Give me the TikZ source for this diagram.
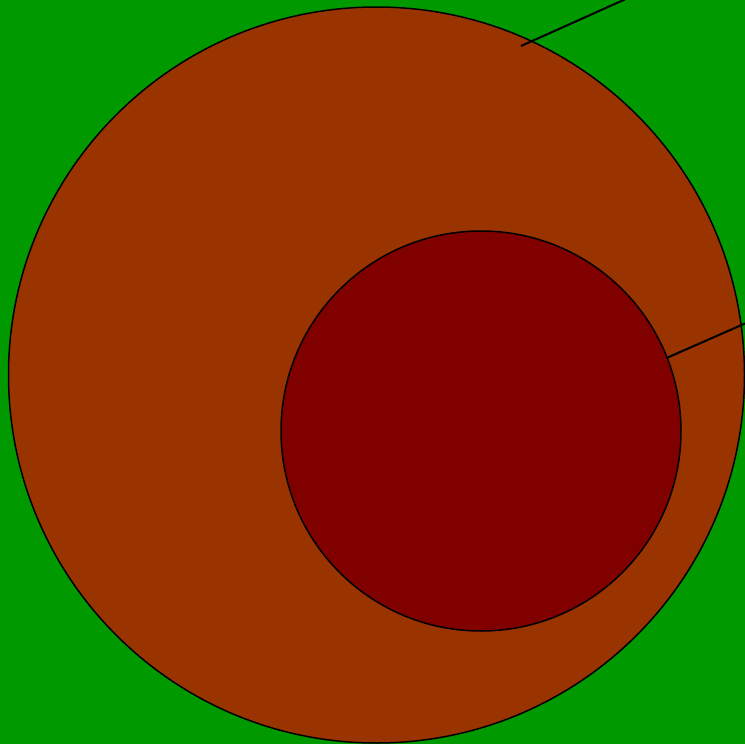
\documentclass[tikz,border=0pt]{standalone}
\usepackage{tikz}

\definecolor{grass}{HTML}{009900}
\definecolor{rust}{HTML}{993300}
\definecolor{maroonish}{HTML}{800000}

\begin{document}
\begin{tikzpicture}[x=1pt,y=-1pt]
        % Background, same size as the reference
        \fill[grass] (0,0) rectangle (745,744);
        \useasboundingbox (0,0) rectangle (745,744);

        % Outer and inner disc
        \node[circle, draw=black, line width=1.5pt, fill=rust, minimum size=736pt, inner sep=0pt]
            (outer) at (376.5,375) {};
        \node[circle, draw=black, line width=1.5pt, fill=maroonish, minimum size=400pt, inner sep=0pt]
            (inner) at (481,431) {};

        % Free ends of the two strokes
        \coordinate (topstart) at (521,46);
        \coordinate (topend) at (628,-2);
        \coordinate (sidestart) at (666.5,358);
        \coordinate (sideend) at (745,323.5);

        \draw[line width=2pt] (topstart) -- (topend);
        \draw[line width=2pt] (sidestart) -- (sideend);
    \end{tikzpicture}
\end{document}
